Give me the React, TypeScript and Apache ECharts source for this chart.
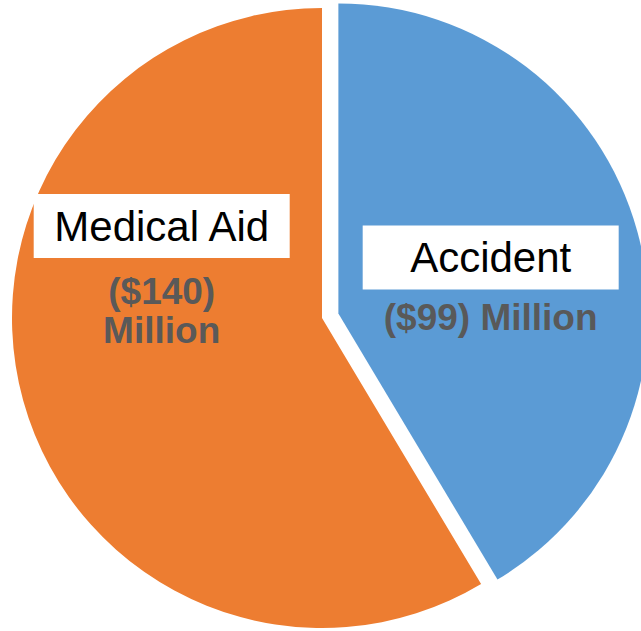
import React, { useEffect, useRef } from "react";
import * as echarts from "echarts";

const categories = ["Accident", "Medical Aid"];
const values = [99, 140];
const valueLabels = ["($99) Million", "($140)\nMillion"];
const colors = ["#5B9BD5", "#ED7D31"];

export default function App() {
  const ref = useRef<HTMLDivElement>(null);
  useEffect(() => {
    if (!ref.current) return;
    const chart = echarts.init(ref.current, undefined, { renderer: "svg" });
    const font = "'Liberation Sans', Arial, sans-serif";
    const data = categories.map((name, i) => {
      const valLines = valueLabels[i].split("\n");
      const isAcc = i === 0;
      const formatted =
        `{name|${name}}\n{${isAcc ? "gapA" : "gapM"}| }\n` +
        valLines.map((l) => `{v|${l}}`).join("\n");
      return {
        name,
        value: values[i],
        selected: isAcc,
        itemStyle: { color: colors[i] },
        label: {
          formatter: formatted,
          padding: isAcc ? [20, 0, 0, 0] : [0, 16, 176, 0],
        },
      };
    });
    chart.setOption({
      animation: false,
      backgroundColor: "#ffffff",
      series: [
        {
          type: "pie",
          center: [322, 318],
          radius: 310,
          startAngle: 90,
          clockwise: true,
          selectedMode: "single",
          selectedOffset: 17,
          emphasis: { disabled: true },
          label: {
            show: true,
            position: "inside",
            rich: {
              name: {
                fontSize: 42,
                fontFamily: font,
                color: "#000",
                backgroundColor: "#fff",
                width: 256,
                height: 64,
                lineHeight: 64,
                align: "center",
              },
              gapA: { fontSize: 4, lineHeight: 9 },
              gapM: { fontSize: 4, lineHeight: 14 },
              v: {
                fontSize: 37,
                fontFamily: font,
                fontWeight: "bold",
                color: "#595959",
                lineHeight: 39,
                align: "center",
              },
            },
          },
          labelLine: { show: false },
          itemStyle: { borderWidth: 0 },
          data,
        },
      ],
    });
    return () => chart.dispose();
  }, []);
  return (
    <div
      ref={ref}
      style={{ position: "fixed", left: 0, top: 0, width: 641, height: 631 }}
    />
  );
}
